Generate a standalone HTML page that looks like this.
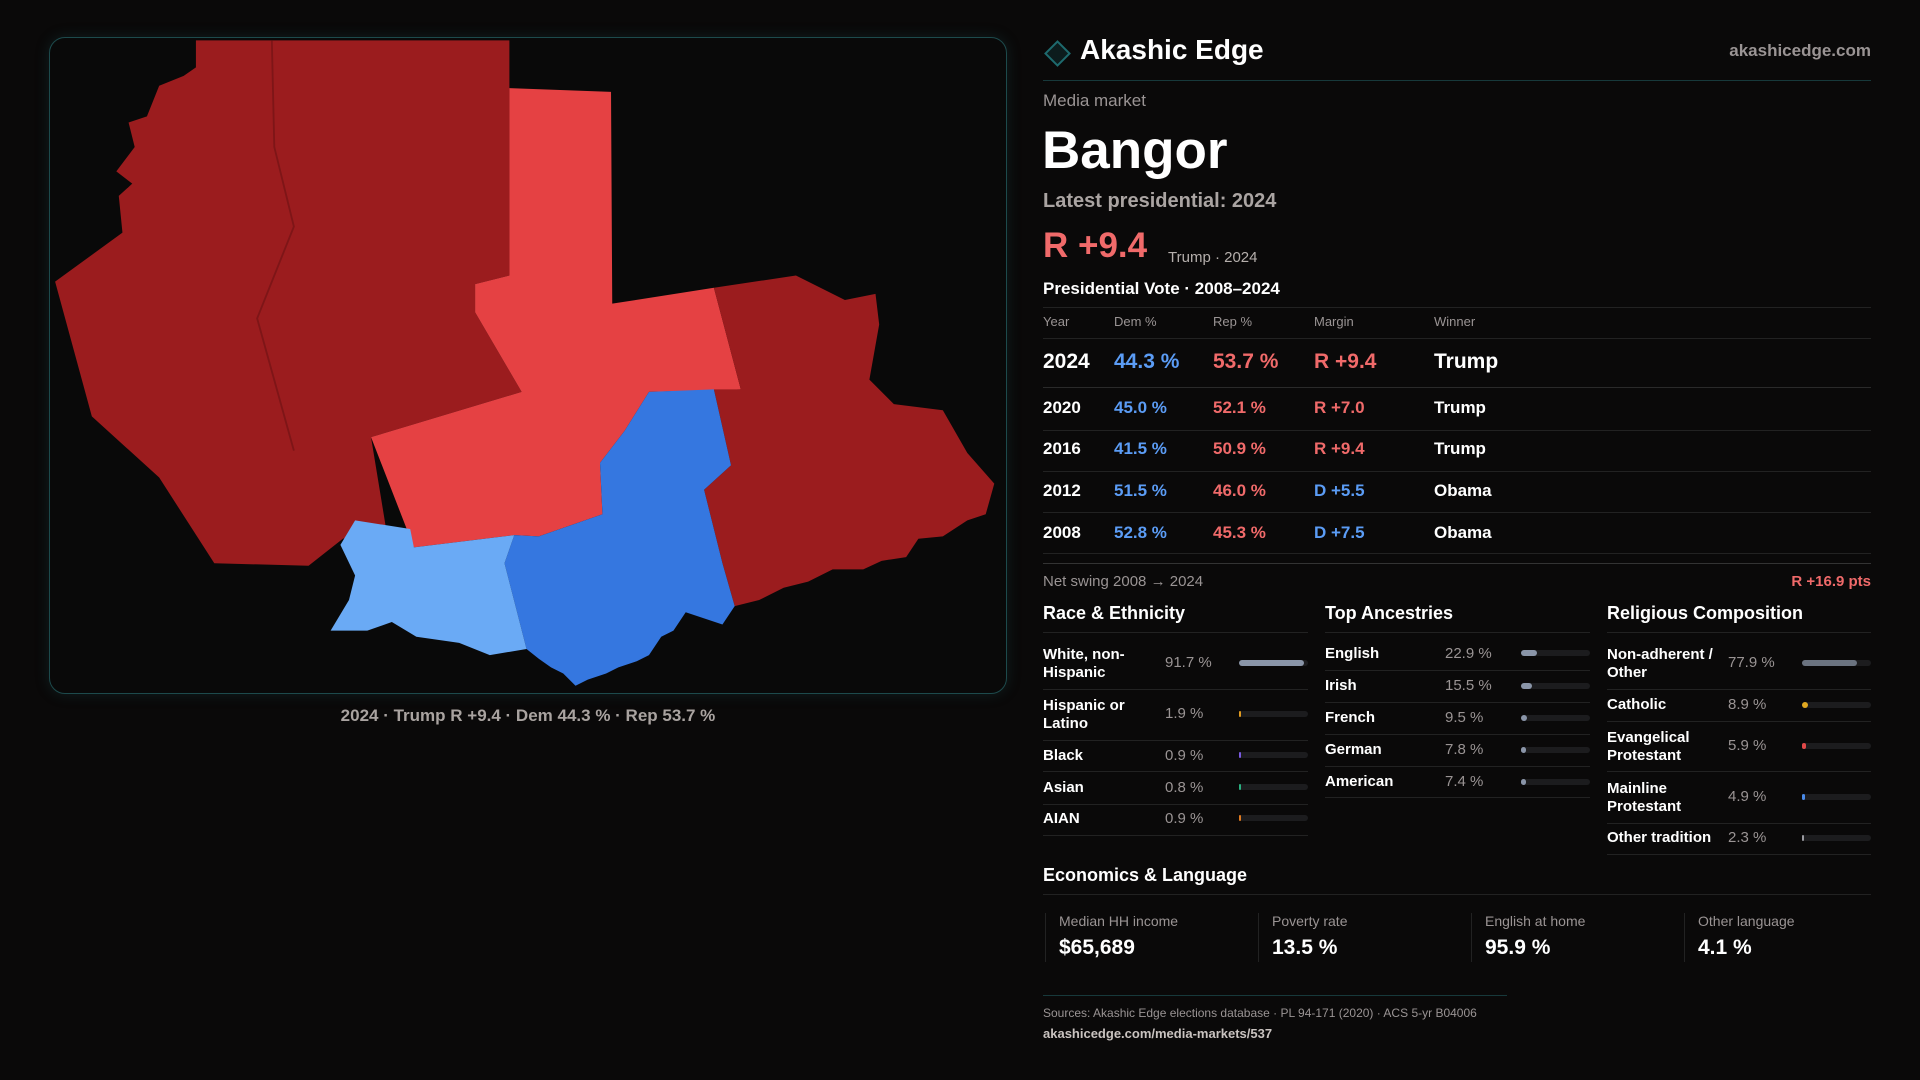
<!DOCTYPE html>
<html><head><meta charset="utf-8"><style>
*{margin:0;padding:0;box-sizing:border-box}
body{width:1920px;height:1080px;background:#0a0909;position:relative;overflow:hidden;font-family:"Liberation Sans",sans-serif;color:#fff}
.a{position:absolute;white-space:nowrap;line-height:1}
.g{color:#9a9494}
.r{color:#f06a6a}
.b{color:#5b9cf5}
.ln{position:absolute;height:1px;background:#222}
.s{font-size:15px;font-weight:600}
.tr{position:absolute;height:6px;background:#1c1c1e;border-radius:3px}
.f{position:absolute;height:6px;border-radius:3px}
</style></head><body>
<div style="position:absolute;left:49px;top:37px;width:958px;height:657px;border:1px solid #1d4a4c;border-radius:16px;background:#090909;box-shadow:0 0 14px rgba(30,90,95,0.25)"></div>
<svg style="position:absolute;left:0;top:0" width="1920" height="1080" viewBox="0 0 1568 882">
<polygon fill="#9b1c1e" points="160,33 416,33 416,225 388,232 388,255 426,320 303,357 315,430 280,440 252,462 175,460 130,390 75,340 45,230 100,190 97,160 108,150 95,140 110,120 105,100 120,95 130,70 150,62 160,55"/>
<polyline fill="none" stroke="#7e1517" stroke-width="1.5" points="222,33 224,120 240,185 210,260 240,368"/>
<polygon fill="#e54143" points="416,72 499,75 500,248 583,235 605,318 530,320 510,352 490,378 492,420 440,438 420,437 338,447 303,357 426,320 388,255 388,232 416,225"/>
<polygon fill="#9b1c1e" points="583,235 650,225 690,245 715,240 718,265 710,310 730,330 770,335 790,370 812,395 805,420 790,425 770,438 750,440 740,455 720,458 705,465 680,465 660,475 640,480 620,490 600,495 590,460 575,400 597,380 583,318 605,318"/>
<polygon fill="#3577e0" points="530,320 583,318 597,380 575,400 590,460 600,495 590,510 575,505 560,500 550,515 540,520 530,535 520,540 505,545 495,550 480,555 470,560 460,550 450,545 440,538 430,530 412,460 420,437 440,438 492,420 490,378 510,352"/>
<polygon fill="#6aaaf5" points="290,425 335,432 338,447 420,437 412,460 430,530 400,535 375,525 340,520 320,508 300,515 270,515 285,490 290,470 278,445"/>
</svg>
<div class="a g" style="left:0;width:1056px;text-align:center;top:707px;font-size:17px;font-weight:600;color:#a9a3a0">2024 · Trump R +9.4 · Dem 44.3 % · Rep 53.7 %</div>

<div style="position:absolute;left:1048px;top:44px;width:19px;height:19px;border:2px solid #1e6a6e;background:#0c1c1d;transform:rotate(45deg)"></div>
<div class="a" style="left:1080px;top:36px;font-size:28px;font-weight:600">Akashic Edge</div>
<div class="a g" style="right:49px;top:42px;font-size:17px;font-weight:600">akashicedge.com</div>
<div class="ln" style="left:1043px;width:828px;top:80px;background:#17393b"></div>
<div class="a g" style="left:1043px;top:92px;font-size:17px">Media market</div>
<div class="a" style="left:1042px;top:124px;font-size:53px;font-weight:700">Bangor</div>
<div class="a" style="left:1043px;top:191px;font-size:20px;font-weight:600;color:#aaa4a2">Latest presidential: 2024</div>
<div class="a r" style="left:1043px;top:228px;font-size:35px;font-weight:600">R +9.4</div>
<div class="a" style="left:1168px;top:250px;font-size:15px;color:#b5afac">Trump · 2024</div>
<div class="a" style="left:1043px;top:280px;font-size:17px;font-weight:600">Presidential Vote · 2008–2024</div>
<div class="ln" style="left:1043px;width:828px;top:307px"></div>
<div class="a g" style="left:1043px;top:315px;font-size:13px">Year</div>
<div class="a g" style="left:1114px;top:315px;font-size:13px">Dem %</div>
<div class="a g" style="left:1213px;top:315px;font-size:13px">Rep %</div>
<div class="a g" style="left:1314px;top:315px;font-size:13px">Margin</div>
<div class="a g" style="left:1434px;top:315px;font-size:13px">Winner</div>
<div class="ln" style="left:1043px;width:828px;top:338px"></div>
<div style="position:absolute;left:1043px;top:351px;font-size:21px;font-weight:600;line-height:1">
<span class="a" style="left:0">2024</span><span class="a b" style="left:71px">44.3 %</span><span class="a r" style="left:170px">53.7 %</span><span class="a r" style="left:271px">R +9.4</span><span class="a" style="left:391px">Trump</span></div>
<div class="ln" style="left:1043px;width:828px;top:387px;background:#2a2a2a"></div>
<div style="position:absolute;left:1043px;top:399px;font-size:17px;font-weight:600"><span class="a">2020</span><span class="a b" style="left:71px">45.0 %</span><span class="a r" style="left:170px">52.1 %</span><span class="a r" style="left:271px">R +7.0</span><span class="a" style="left:391px">Trump</span></div>
<div class="ln" style="left:1043px;width:828px;top:430px"></div>
<div style="position:absolute;left:1043px;top:440px;font-size:17px;font-weight:600"><span class="a">2016</span><span class="a b" style="left:71px">41.5 %</span><span class="a r" style="left:170px">50.9 %</span><span class="a r" style="left:271px">R +9.4</span><span class="a" style="left:391px">Trump</span></div>
<div class="ln" style="left:1043px;width:828px;top:471px"></div>
<div style="position:absolute;left:1043px;top:482px;font-size:17px;font-weight:600"><span class="a">2012</span><span class="a b" style="left:71px">51.5 %</span><span class="a r" style="left:170px">46.0 %</span><span class="a b" style="left:271px">D +5.5</span><span class="a" style="left:391px">Obama</span></div>
<div class="ln" style="left:1043px;width:828px;top:512px"></div>
<div style="position:absolute;left:1043px;top:524px;font-size:17px;font-weight:600"><span class="a">2008</span><span class="a b" style="left:71px">52.8 %</span><span class="a r" style="left:170px">45.3 %</span><span class="a b" style="left:271px">D +7.5</span><span class="a" style="left:391px">Obama</span></div>
<div class="ln" style="left:1043px;width:828px;top:553px"></div>
<div class="ln" style="left:1043px;width:828px;top:563px;background:#333"></div>
<div class="a g" style="left:1043px;top:574px;font-size:15px">Net swing 2008 → 2024</div>
<div class="a r" style="right:49px;top:574px;font-size:15px;font-weight:600">R +16.9 pts</div>

<div class="a" style="left:1043px;top:604px;font-size:18px;font-weight:600">Race &amp; Ethnicity</div>
<div class="a" style="left:1325px;top:604px;font-size:18px;font-weight:600">Top Ancestries</div>
<div class="a" style="left:1607px;top:604px;font-size:18px;font-weight:600">Religious Composition</div>
<div class="ln" style="left:1043px;width:265px;top:632px"></div>
<div class="ln" style="left:1325px;width:265px;top:632px"></div>
<div class="ln" style="left:1607px;width:264px;top:632px"></div>

<div class="a s" style="left:1043px;top:646px;line-height:18px">White, non-<br>Hispanic</div><div class="a g" style="left:1165px;top:655px;font-size:15px">91.7 %</div><div class="tr" style="left:1239px;width:69px;top:660px"></div><div class="f" style="left:1239px;width:65px;top:660px;background:#8a95a8"></div>
<div class="ln" style="left:1043px;width:265px;top:689px"></div>
<div class="a s" style="left:1043px;top:697px;line-height:18px">Hispanic or<br>Latino</div><div class="a g" style="left:1165px;top:706px;font-size:15px">1.9 %</div><div class="tr" style="left:1239px;width:69px;top:711px"></div><div class="f" style="left:1239px;width:2px;top:711px;background:#e09a20"></div>
<div class="ln" style="left:1043px;width:265px;top:740px"></div>
<div class="a s" style="left:1043px;top:748px">Black</div><div class="a g" style="left:1165px;top:748px;font-size:15px">0.9 %</div><div class="tr" style="left:1239px;width:69px;top:752px"></div><div class="f" style="left:1239px;width:2px;top:752px;background:#7a5ae0"></div>
<div class="ln" style="left:1043px;width:265px;top:771px"></div>
<div class="a s" style="left:1043px;top:780px">Asian</div><div class="a g" style="left:1165px;top:780px;font-size:15px">0.8 %</div><div class="tr" style="left:1239px;width:69px;top:784px"></div><div class="f" style="left:1239px;width:2px;top:784px;background:#2ab080"></div>
<div class="ln" style="left:1043px;width:265px;top:804px"></div>
<div class="a s" style="left:1043px;top:811px">AIAN</div><div class="a g" style="left:1165px;top:811px;font-size:15px">0.9 %</div><div class="tr" style="left:1239px;width:69px;top:815px"></div><div class="f" style="left:1239px;width:2px;top:815px;background:#e07a20"></div>
<div class="ln" style="left:1043px;width:265px;top:835px"></div>

<div class="a s" style="left:1325px;top:646px">English</div><div class="a g" style="left:1445px;top:646px;font-size:15px">22.9 %</div><div class="tr" style="left:1521px;width:69px;top:650px"></div><div class="f" style="left:1521px;width:16px;top:650px;background:#8a95a8"></div>
<div class="ln" style="left:1325px;width:265px;top:670px"></div>
<div class="a s" style="left:1325px;top:678px">Irish</div><div class="a g" style="left:1445px;top:678px;font-size:15px">15.5 %</div><div class="tr" style="left:1521px;width:69px;top:683px"></div><div class="f" style="left:1521px;width:11px;top:683px;background:#8a95a8"></div>
<div class="ln" style="left:1325px;width:265px;top:702px"></div>
<div class="a s" style="left:1325px;top:710px">French</div><div class="a g" style="left:1445px;top:710px;font-size:15px">9.5 %</div><div class="tr" style="left:1521px;width:69px;top:715px"></div><div class="f" style="left:1521px;width:6px;top:715px;background:#8a95a8"></div>
<div class="ln" style="left:1325px;width:265px;top:734px"></div>
<div class="a s" style="left:1325px;top:742px">German</div><div class="a g" style="left:1445px;top:742px;font-size:15px">7.8 %</div><div class="tr" style="left:1521px;width:69px;top:747px"></div><div class="f" style="left:1521px;width:5px;top:747px;background:#8a95a8"></div>
<div class="ln" style="left:1325px;width:265px;top:766px"></div>
<div class="a s" style="left:1325px;top:774px">American</div><div class="a g" style="left:1445px;top:774px;font-size:15px">7.4 %</div><div class="tr" style="left:1521px;width:69px;top:779px"></div><div class="f" style="left:1521px;width:5px;top:779px;background:#8a95a8"></div>
<div class="ln" style="left:1325px;width:265px;top:797px"></div>

<div class="a s" style="left:1607px;top:646px;line-height:18px">Non-adherent /<br>Other</div><div class="a g" style="left:1728px;top:655px;font-size:15px">77.9 %</div><div class="tr" style="left:1802px;width:69px;top:660px"></div><div class="f" style="left:1802px;width:55px;top:660px;background:#6b7380"></div>
<div class="ln" style="left:1607px;width:264px;top:689px"></div>
<div class="a s" style="left:1607px;top:697px">Catholic</div><div class="a g" style="left:1728px;top:697px;font-size:15px">8.9 %</div><div class="tr" style="left:1802px;width:69px;top:702px"></div><div class="f" style="left:1802px;width:6px;top:702px;background:#e0a820"></div>
<div class="ln" style="left:1607px;width:264px;top:721px"></div>
<div class="a s" style="left:1607px;top:729px;line-height:18px">Evangelical<br>Protestant</div><div class="a g" style="left:1728px;top:738px;font-size:15px">5.9 %</div><div class="tr" style="left:1802px;width:69px;top:743px"></div><div class="f" style="left:1802px;width:4px;top:743px;background:#e04848"></div>
<div class="ln" style="left:1607px;width:264px;top:771px"></div>
<div class="a s" style="left:1607px;top:780px;line-height:18px">Mainline<br>Protestant</div><div class="a g" style="left:1728px;top:789px;font-size:15px">4.9 %</div><div class="tr" style="left:1802px;width:69px;top:794px"></div><div class="f" style="left:1802px;width:3px;top:794px;background:#4a8ae8"></div>
<div class="ln" style="left:1607px;width:264px;top:823px"></div>
<div class="a s" style="left:1607px;top:830px">Other tradition</div><div class="a g" style="left:1728px;top:830px;font-size:15px">2.3 %</div><div class="tr" style="left:1802px;width:69px;top:835px"></div><div class="f" style="left:1802px;width:2px;top:835px;background:#9a9aa0"></div>
<div class="ln" style="left:1607px;width:264px;top:854px"></div>

<div class="a" style="left:1043px;top:866px;font-size:18px;font-weight:600">Economics &amp; Language</div>
<div class="ln" style="left:1043px;width:828px;top:894px"></div>
<div style="position:absolute;left:1045px;top:913px;width:1px;height:49px;background:#222"></div>
<div style="position:absolute;left:1258px;top:913px;width:1px;height:49px;background:#222"></div>
<div style="position:absolute;left:1471px;top:913px;width:1px;height:49px;background:#222"></div>
<div style="position:absolute;left:1684px;top:913px;width:1px;height:49px;background:#222"></div>
<div class="a g" style="left:1059px;top:914px;font-size:14px">Median HH income</div><div class="a" style="left:1059px;top:937px;font-size:21px;font-weight:600">$65,689</div>
<div class="a g" style="left:1272px;top:914px;font-size:14px">Poverty rate</div><div class="a" style="left:1272px;top:937px;font-size:21px;font-weight:600">13.5 %</div>
<div class="a g" style="left:1485px;top:914px;font-size:14px">English at home</div><div class="a" style="left:1485px;top:937px;font-size:21px;font-weight:600">95.9 %</div>
<div class="a g" style="left:1698px;top:914px;font-size:14px">Other language</div><div class="a" style="left:1698px;top:937px;font-size:21px;font-weight:600">4.1 %</div>
<div class="ln" style="left:1043px;width:464px;top:995px;background:#17393b"></div>
<div class="a g" style="left:1043px;top:1007px;font-size:12px">Sources: Akashic Edge elections database · PL 94-171 (2020) · ACS 5-yr B04006</div>
<div class="a" style="left:1043px;top:1027px;font-size:13px;color:#c9c3c0;font-weight:600">akashicedge.com/media-markets/537</div>
</body></html>
